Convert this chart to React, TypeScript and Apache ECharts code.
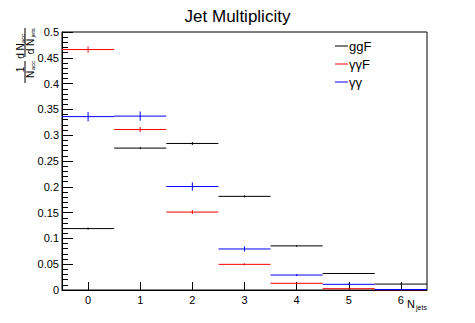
import React, { useEffect, useRef } from "react";
import * as echarts from "echarts";

const bins = [0, 1, 2, 3, 4, 5, 6];
const xTickLabels = ["0", "1", "2", "3", "4", "5", "6"];
const ggF = [0.119, 0.275, 0.284, 0.1815, 0.0855, 0.032, 0.0115];
const ggFErr = [0.002, 0.002, 0.003, 0.002, 0.0015, 0.001, 0.001];
const aaF = [0.466, 0.311, 0.151, 0.0497, 0.013, 0.0026, 0.0005];
const aaFErr = [0.006, 0.005, 0.004, 0.002, 0.001, 0.0005, 0.0002];
const aa = [0.336, 0.337, 0.2005, 0.0795, 0.029, 0.011, 0.001];
const aaErr = [0.009, 0.009, 0.008, 0.005, 0.002, 0.0015, 0.0005];
const seriesNames = ["ggF", "γγF", "γγ"];
const seriesColors = ["#000000", "#ff0000", "#0000ff"];

const FONT = "Liberation Sans, Arial, Helvetica, sans-serif";

function makeSeries(name: string, color: string, vals: number[], errs: number[]) {
  return {
    type: "custom",
    name,
    data: bins.map((b, i) => [b, vals[i], errs[i]]),
    renderItem: (params: any, api: any) => {
      const x = api.value(0);
      const y = api.value(1);
      const e = api.value(2);
      const l = api.coord([x - 0.5, y]);
      const r = api.coord([x + 0.5, y]);
      const t = api.coord([x, y + e]);
      const b = api.coord([x, y - e]);
      return {
        type: "group",
        children: [
          { type: "line", shape: { x1: l[0], y1: l[1], x2: r[0], y2: r[1] }, style: { stroke: color, lineWidth: 1 } },
          { type: "line", shape: { x1: t[0], y1: t[1], x2: b[0], y2: b[1] }, style: { stroke: color, lineWidth: 1 } },
        ],
      };
    },
  };
}

export default function App() {
  const ref = useRef<HTMLDivElement>(null);
  useEffect(() => {
    if (!ref.current) return;
    const chart = echarts.init(ref.current, null, { renderer: "svg" });
    const legendEls: any[] = [];
    const legendY = [46, 64, 82];
    seriesNames.forEach((n, i) => {
      legendEls.push({
        type: "line",
        shape: { x1: 335, y1: legendY[i], x2: 348, y2: legendY[i] },
        style: { stroke: seriesColors[i], lineWidth: 1 },
      });
      legendEls.push({
        type: "text",
        x: 349,
        y: legendY[i],
        style: { text: n, fontSize: 13, fontFamily: FONT, fill: "#000", verticalAlign: "middle", align: "left" },
      });
    });
    const t = (text: string, x: number, y: number, size: number, align = "center") => ({
      type: "text",
      x,
      y,
      style: { text, fontSize: size, fontFamily: FONT, fill: "#000", align, verticalAlign: "middle" },
    });
    // y-axis title, drawn in a rotated local frame
    const yTitle = {
      type: "group",
      x: 25,
      y: 86,
      rotation: Math.PI / 2,
      children: [
        t("1", 16.5, -4.5, 10),
        t("N", 11.5, 5.5, 10),
        t("acc", 16, 7.5, 6, "left"),
        { type: "line", shape: { x1: 3, y1: 0, x2: 25, y2: 0 }, style: { stroke: "#000", lineWidth: 1 } },
        t("d N", 35, -4.5, 10),
        t("acc", 43, -2.5, 6, "left"),
        t("d N", 39.5, 5.5, 10),
        t("jets", 48.5, 7.5, 6, "left"),
        { type: "line", shape: { x1: 29, y1: 0, x2: 58, y2: 0 }, style: { stroke: "#000", lineWidth: 1 } },
      ],
    };
    const xTitle = {
      type: "group",
      children: [
        t("N", 411, 304, 11),
        t("jets", 416, 307, 7, "left"),
      ],
    };
    chart.setOption({
      animation: false,
      title: {
        text: "Jet Multiplicity",
        left: "center",
        top: 3,
        textStyle: { fontSize: 17, fontWeight: "normal", color: "#000", fontFamily: FONT },
      },
      grid: {
        left: 62,
        right: 48,
        top: 32,
        bottom: 33,
        show: true,
        borderColor: "#000",
        borderWidth: 1,
        backgroundColor: "transparent",
      },
      xAxis: {
        type: "value",
        min: -0.5,
        max: 6.5,
        axisLine: { show: true, onZero: false, lineStyle: { color: "#000", width: 1 } },
        axisTick: { show: true, inside: true, length: 8, customValues: bins, lineStyle: { color: "#000" } },
        axisLabel: {
          customValues: bins,
          formatter: (v: number) => xTickLabels[bins.indexOf(Math.round(v))] ?? "",
          color: "#000",
          fontSize: 11,
          fontFamily: FONT,
          margin: 4,
        },
        splitLine: { show: false },
      },
      yAxis: {
        type: "value",
        min: 0,
        max: 0.5,
        interval: 0.05,
        axisLine: { show: true, onZero: false, lineStyle: { color: "#000", width: 1 } },
        axisTick: { show: true, inside: true, length: 11, lineStyle: { color: "#000" } },
        minorTick: { show: true, splitNumber: 5, length: 6, lineStyle: { color: "#000" } },
        axisLabel: {
          formatter: (v: number) => String(+v.toFixed(2)),
          color: "#000",
          fontSize: 11,
          fontFamily: FONT,
          margin: 3,
        },
        splitLine: { show: false },
      },
      series: [
        makeSeries(seriesNames[0], seriesColors[0], ggF, ggFErr),
        makeSeries(seriesNames[1], seriesColors[1], aaF, aaFErr),
        makeSeries(seriesNames[2], seriesColors[2], aa, aaErr),
      ],
      graphic: [...legendEls, yTitle, xTitle],
    });
    return () => chart.dispose();
  }, []);
  return (
    <div
      ref={ref}
      style={{ position: "fixed", left: 0, top: 0, width: 475, height: 323, background: "#fff" }}
    />
  );
}
